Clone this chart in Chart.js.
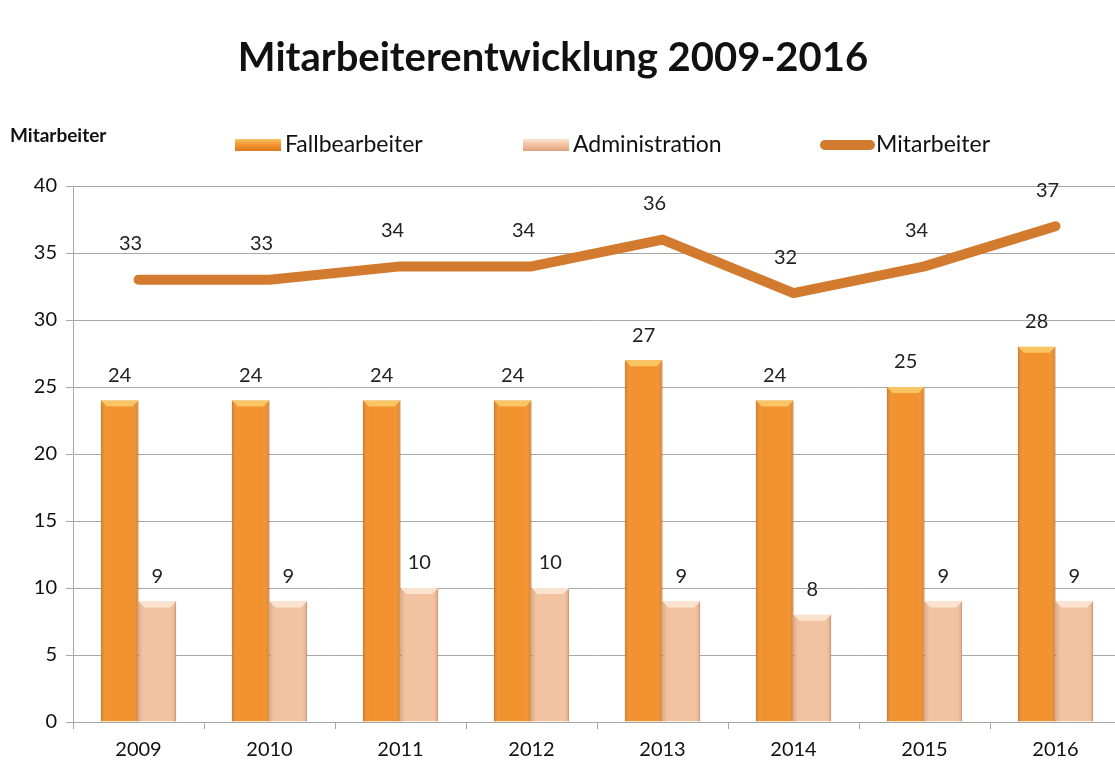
<!DOCTYPE html>
<html>
<head>
<meta charset="utf-8">
<title>Mitarbeiterentwicklung 2009-2016</title>
<script src="https://cdn.jsdelivr.net/npm/chart.js@4.4.1/dist/chart.umd.min.js"></script>
<style>
  html, body { margin: 0; padding: 0; background: #fff; overflow: hidden; }
  #wrap { width: 1121px; height: 767px; }
</style>
</head>
<body>
<div id="wrap"><canvas id="chart" width="1121" height="767"></canvas></div>
<script>
const jahre = ['2009', '2010', '2011', '2012', '2013', '2014', '2015', '2016'];
const fallbearbeiter = [24, 24, 24, 24, 27, 24, 25, 28];
const administration = [9, 9, 10, 10, 9, 8, 9, 9];
const mitarbeiter = [33, 33, 34, 34, 36, 32, 34, 37];
const yTicks = [0, 5, 10, 15, 20, 25, 30, 35, 40];

const schrift = 'Lato, "Open Sans", sans-serif';
const farben = {
  fall: '#F1922F',
  fallKante: '#DB7A1C',
  fallDeckel: '#F9C462',
  admin: '#F3C2A0',
  adminKante: '#DCA07E',
  adminDeckel: '#FCE3CF',
  linie: '#D27A2E',
  gitter: '#A8A8A8'
};

// Texte oben: Titel, Achsentitel, Legende
const kopfPlugin = {
  id: 'kopf',
  afterDraw(chart) {
    const ctx = chart.ctx;
    ctx.save();
    ctx.fillStyle = '#111';
    ctx.textBaseline = 'middle';
    ctx.textAlign = 'center';
    ctx.font = 'bold 40px ' + schrift;
    ctx.fillText('Mitarbeiterentwicklung 2009-2016', 553, 58);

    ctx.textAlign = 'left';
    ctx.font = 'bold 19px ' + schrift;
    ctx.fillText('Mitarbeiter', 10, 136);

    // Legende
    const ds = chart.data.datasets;
    const eintraege = [
      { x: 235, ds: ds[0], deckel: farben.fallDeckel, kante: farben.fallKante },
      { x: 523, ds: ds[1], deckel: farben.adminDeckel, kante: farben.adminKante },
      { x: 820, ds: ds[2] }
    ];
    const yl = 145;
    ctx.font = '23px ' + schrift;
    eintraege.forEach(e => {
      if (e.ds.type === 'line') {
        ctx.strokeStyle = e.ds.borderColor;
        ctx.lineWidth = 10;
        ctx.lineCap = 'round';
        ctx.beginPath();
        ctx.moveTo(e.x + 5, yl);
        ctx.lineTo(e.x + 50, yl);
        ctx.stroke();
        ctx.fillStyle = '#111';
        ctx.fillText(e.ds.label, e.x + 56, yl);
      } else {
        const g = ctx.createLinearGradient(0, yl - 6, 0, yl + 6);
        g.addColorStop(0, e.deckel);
        g.addColorStop(0.5, e.ds.backgroundColor);
        g.addColorStop(1, e.kante);
        ctx.fillStyle = g;
        ctx.fillRect(e.x, yl - 6, 46, 12);
        ctx.fillStyle = '#111';
        ctx.fillText(e.ds.label, e.x + 50, yl);
      }
    });
    ctx.restore();
  }
};

// Leichter 3D-Effekt auf den Säulen
const saeulenPlugin = {
  id: 'saeulen',
  afterDatasetsDraw(chart) {
    const ctx = chart.ctx;
    ctx.save();
    [0, 1].forEach(i => {
      const meta = chart.getDatasetMeta(i);
      const deckel = i === 0 ? farben.fallDeckel : farben.adminDeckel;
      meta.data.forEach(bar => {
        const { x, y, base, width } = bar.getProps(['x', 'y', 'base', 'width'], true);
        const l = x - width / 2, r = x + width / 2;
        const g = ctx.createLinearGradient(l, 0, r, 0);
        g.addColorStop(0, 'rgba(120,50,0,0.22)');
        g.addColorStop(0.18, 'rgba(255,255,255,0)');
        g.addColorStop(0.82, 'rgba(255,255,255,0)');
        g.addColorStop(1, 'rgba(120,50,0,0.22)');
        ctx.fillStyle = g;
        ctx.fillRect(l, y, width, base - y);
        ctx.fillStyle = deckel;
        ctx.beginPath();
        ctx.moveTo(l, y);
        ctx.lineTo(r, y);
        ctx.lineTo(r - 6, y + 6);
        ctx.lineTo(l + 6, y + 6);
        ctx.closePath();
        ctx.fill();
      });
    });
    ctx.restore();
  }
};

// Datenbeschriftungen
const werte = {
  id: 'werte',
  afterDatasetsDraw(chart) {
    const ctx = chart.ctx;
    ctx.save();
    ctx.fillStyle = '#222';
    ctx.font = '20px ' + schrift;
    ctx.textAlign = 'center';
    ctx.textBaseline = 'middle';
    chart.data.datasets.forEach((ds, i) => {
      const meta = chart.getDatasetMeta(i);
      const abstand = ds.type === 'line' ? 36 : 25;
      meta.data.forEach((el, j) => {
        ctx.fillText(String(ds.data[j]), el.x - (ds.type === 'line' ? 8 : 0), el.y - abstand);
      });
    });
    ctx.restore();
  }
};

const ctx = document.getElementById('chart').getContext('2d');
const chart = new Chart(ctx, {
  type: 'bar',
  data: {
    labels: jahre,
    datasets: [
      {
        label: 'Fallbearbeiter',
        data: fallbearbeiter,
        backgroundColor: farben.fall,
        borderColor: farben.fallKante,
        borderWidth: 1,
        categoryPercentage: 0.575,
        barPercentage: 1
      },
      {
        label: 'Administration',
        data: administration,
        backgroundColor: farben.admin,
        borderColor: farben.adminKante,
        borderWidth: 1,
        categoryPercentage: 0.575,
        barPercentage: 1
      },
      {
        type: 'line',
        label: 'Mitarbeiter',
        data: mitarbeiter,
        borderColor: farben.linie,
        backgroundColor: farben.linie,
        borderWidth: 10,
        borderCapStyle: 'round',
        borderJoinStyle: 'round',
        pointRadius: 0,
        tension: 0
      }
    ]
  },
  options: {
    responsive: false,
    animation: false,
    devicePixelRatio: 1,
    layout: { padding: { top: 186, left: 0, right: 0, bottom: 0 } },
    plugins: {
      legend: { display: false },
      title: { display: false },
      tooltip: { enabled: false }
    },
    scales: {
      x: {
        offset: true,
        grid: {
          offset: true,
          drawOnChartArea: false,
          tickLength: 7,
          color: farben.gitter
        },
        border: { color: farben.gitter },
        ticks: {
          padding: 9,
          color: '#111',
          font: { family: schrift, size: 20 }
        },
        afterFit(scale) { scale.height = 45; }
      },
      y: {
        min: 0,
        max: 40,
        afterBuildTicks(scale) { scale.ticks = yTicks.map(v => ({ value: v })); },
        grid: {
          color: farben.gitter,
          tickLength: 7
        },
        border: { color: farben.gitter },
        ticks: {
          padding: 9,
          color: '#111',
          font: { family: schrift, size: 20 }
        },
        afterFit(scale) { scale.width = 73; }
      }
    }
  },
  plugins: [saeulenPlugin, werte, kopfPlugin]
});
</script>
</body>
</html>
